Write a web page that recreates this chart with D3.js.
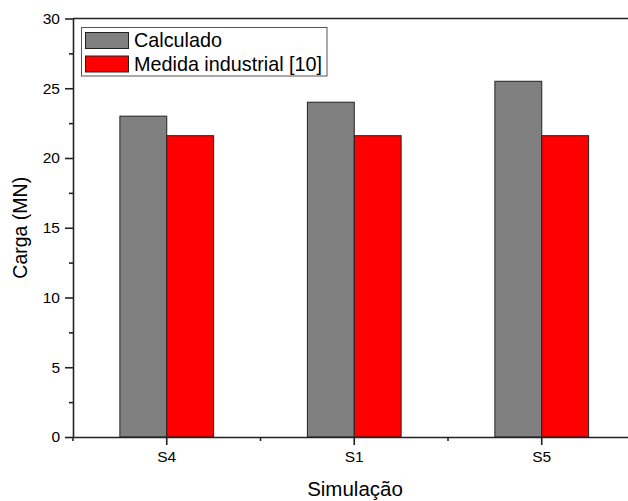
<!DOCTYPE html>
<html>
<head>
<meta charset="utf-8">
<script src="https://cdn.jsdelivr.net/npm/d3@7"></script>
<style>
  body { margin: 0; background: #fff; }
  svg { display: block; }
  svg text { font-family: "Liberation Sans", Arial, sans-serif; fill: #000; }
</style>
</head>
<body>
<svg width="628" height="501"></svg>
<script>
// data
var categories = ["S4", "S1", "S5"];
var seriesNames = ["Calculado", "Medida industrial [10]"];
var calculado = [23.0, 24.0, 25.5];
var medida = [21.6, 21.6, 21.6];
var seriesColors = ["#808080", "#ff0000"];
var yTicks = [0, 5, 10, 15, 20, 25, 30];

var svg = d3.select("svg"),
    plotLeft = 73, plotTop = 18.5, plotBottom = 437,
    bandW = 187.5,
    axisColor = "#222";

var rows = categories.map(function(c, i) {
    return { cat: c, values: [calculado[i], medida[i]] };
});

var x = d3.scaleBand().domain(categories)
    .range([plotLeft, plotLeft + bandW * categories.length]).padding(0);
var xs = d3.scaleBand().domain(seriesNames)
    .range([x.bandwidth() * 0.25, x.bandwidth() * 0.75]).padding(0);
var y = d3.scaleLinear().domain([0, 30]).range([plotBottom, plotTop]);

/*---------------- bars ----------------*/
svg.append("g").selectAll("g")
    .data(rows)
  .enter().append("g")
    .attr("transform", function(d) { return "translate(" + x(d.cat) + ",0)"; })
  .selectAll("rect")
    .data(function(d) { return d.values.map(function(v, j) { return { s: seriesNames[j], v: v, j: j }; }); })
  .enter().append("rect")
    .attr("x", function(d) { return xs(d.s); })
    .attr("y", function(d) { return y(d.v); })
    .attr("width", xs.bandwidth())
    .attr("height", function(d) { return y(0) - y(d.v); })
    .attr("fill", function(d) { return seriesColors[d.j]; })
    .attr("stroke", "#222")
    .attr("stroke-width", 1);

/*---------------- axes ----------------*/
// y minor ticks
svg.append("g").attr("transform", "translate(" + plotLeft + ",0)")
    .call(d3.axisLeft(y).tickValues(d3.range(2.5, 30, 5)).tickSize(4).tickFormat(""))
    .call(function(a) { a.select(".domain").remove(); });

var yAxis = svg.append("g").attr("transform", "translate(" + plotLeft + ",0)")
    .call(d3.axisLeft(y).tickValues(yTicks).tickSize(8).tickPadding(5).tickSizeOuter(0));
yAxis.attr("font-family", null).attr("font-size", null);
yAxis.selectAll("text").style("font-size", "15.5px");

// x minor ticks at band edges
svg.append("g").selectAll("line")
    .data(categories.map(function(c) { return x(c); }))
  .enter().append("line")
    .attr("x1", function(d) { return d; }).attr("x2", function(d) { return d; })
    .attr("y1", plotBottom).attr("y2", plotBottom + 4);

var xAxis = svg.append("g").attr("transform", "translate(0," + plotBottom + ")")
    .call(d3.axisBottom(x).tickSize(8).tickPadding(6).tickSizeOuter(0));
xAxis.attr("font-family", null).attr("font-size", null);
xAxis.selectAll("text").style("font-size", "15.5px");

// top line
svg.append("line")
    .attr("x1", plotLeft).attr("x2", 628)
    .attr("y1", plotTop).attr("y2", plotTop);

svg.selectAll("line, .domain")
    .attr("stroke", axisColor).attr("stroke-width", 1.6);

/*---------------- titles ----------------*/
svg.append("text")
    .attr("transform", "translate(27," + ((plotTop + plotBottom) / 2) + ") rotate(-90)")
    .attr("text-anchor", "middle")
    .style("font-size", "19.5px")
    .text("Carga (MN)");

svg.append("text")
    .attr("x", 355).attr("y", 496)
    .attr("text-anchor", "middle")
    .style("font-size", "20.5px")
    .text("Simulação");

/*---------------- legend ----------------*/
var legend = svg.append("g");
legend.append("rect")
    .attr("x", 81.5).attr("y", 27.5).attr("width", 245.5).attr("height", 48.5)
    .attr("fill", "#fff").attr("stroke", "#555").attr("stroke-width", 1);
var li = legend.selectAll("g")
    .data(seriesNames)
  .enter().append("g")
    .attr("transform", function(d, i) { return "translate(0," + (i * 23.5) + ")"; });
li.append("rect")
    .attr("x", 85.5).attr("y", 32.5).attr("width", 43).attr("height", 16)
    .attr("fill", function(d, i) { return seriesColors[i]; })
    .attr("stroke", "#222").attr("stroke-width", 1);
li.append("text")
    .attr("x", 134).attr("y", 47)
    .style("font-size", "19.8px")
    .text(function(d) { return d; });
</script>
</body>
</html>
